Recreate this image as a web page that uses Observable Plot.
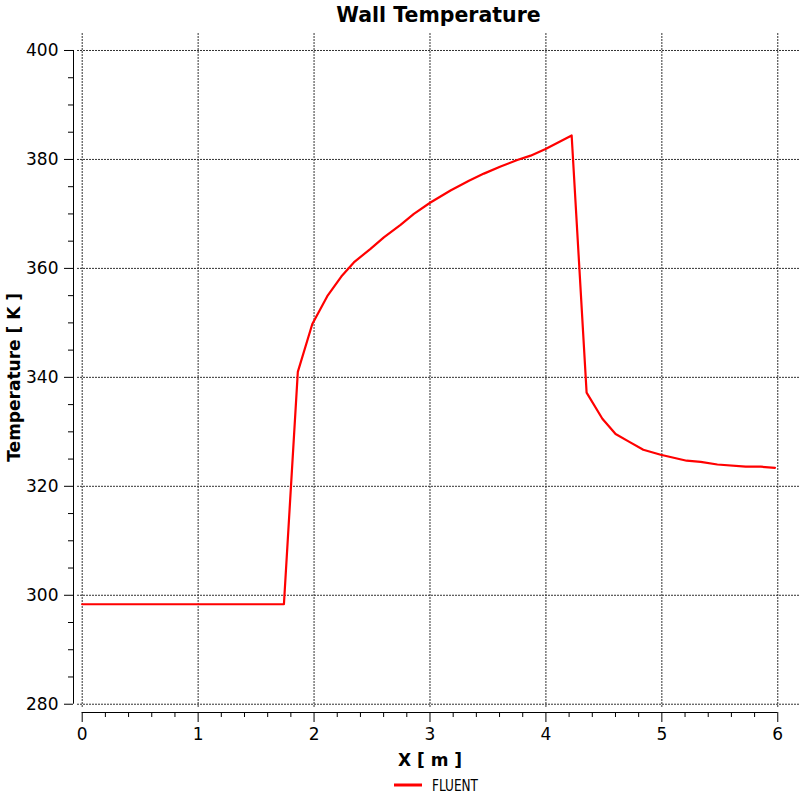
<!DOCTYPE html>
<html>
<head>
<meta charset="utf-8">
<script src="https://cdn.jsdelivr.net/npm/d3@7"></script>
<script src="https://cdn.jsdelivr.net/npm/@observablehq/plot@0.6"></script>
<style>
  html, body { margin: 0; padding: 0; background: #fff; }
  #wrap { position: relative; width: 800px; height: 800px; overflow: hidden; background: #fff; }
  #title { position: absolute; left: 77px; top: 0; width: 723px; height: 31px; line-height: 31px;
           text-align: center; font-family: "DejaVu Sans", sans-serif; font-weight: bold; font-size: 20.5px; color: #000; }
  #chart { position: absolute; left: 0; top: 33px; }
  #legend { position: absolute; left: 0; top: 773px; }
</style>
</head>
<body>
<div id="wrap">
  <div id="title"></div>
  <div id="chart"></div>
  <svg id="legend" width="800" height="27"></svg>
</div>
<script>
const titleText = "Wall Temperature";
const xLabel = "X [ m ]";
const yLabel = "Temperature [ K ]";
const seriesName = "FLUENT";

const xTicks = [0, 1, 2, 3, 4, 5, 6];
const yTicks = [280, 300, 320, 340, 360, 380, 400];

const xPos = [0, 1.740, 1.860, 1.985, 2.114, 2.235, 2.343, 2.487, 2.602, 2.746, 2.861, 3.004,
              3.177, 3.336, 3.465, 3.609, 3.753, 3.868, 3.997, 4.222, 4.351, 4.487, 4.601,
              4.716, 4.840, 4.990, 5.214, 5.335, 5.479, 5.723, 5.853, 5.976];
const temperature = [298.35, 298.35, 341.0, 349.8, 354.9, 358.5, 361.1, 363.6, 365.7, 368.0, 370.0, 372.1,
                     374.3, 376.1, 377.4, 378.7, 379.9, 380.7, 381.9, 384.4, 337.2, 332.4, 329.6,
                     328.2, 326.7, 325.8, 324.7, 324.5, 324.0, 323.6, 323.6, 323.4];

const data = xPos.map((x, i) => ({x, t: temperature[i]}));

const xMinor = d3.range(0, 6.0001, 0.2).filter(v => Math.abs(v - Math.round(v)) > 1e-6);
const yMinor = d3.range(280, 400.0001, 5).filter(v => v % 20 !== 0);

const xDomain = [-0.075, 6.196];
const yDomain = [278.48, 403.12];
const red = "#ff0000";
const gridStyle = {stroke: "#333", strokeWidth: 1, strokeDasharray: "2,1"};

document.getElementById("title").textContent = titleText;

const chart = Plot.plot({
  width: 800,
  height: 740,
  marginLeft: 73,
  marginRight: 0,
  marginTop: 0,
  marginBottom: 61,
  style: {fontFamily: "DejaVu Sans, sans-serif", fontSize: "17px", color: "#000", background: "#fff"},
  x: {domain: xDomain},
  y: {domain: yDomain},
  marks: [
    Plot.ruleX(xTicks, {...gridStyle, insetBottom: 4}),
    Plot.ruleY(yTicks, {...gridStyle, insetLeft: 4}),
    Plot.ruleY([yDomain[0]], {x1: xTicks[0], x2: xTicks[xTicks.length - 1], stroke: "#000"}),
    Plot.ruleX([xDomain[0]], {y1: yTicks[0], y2: yTicks[yTicks.length - 1], stroke: "#000"}),
    Plot.axisX({ticks: xTicks, tickSize: 10, tickPadding: 5, tickFormat: d => String(d), fontSize: 17, label: null}),
    Plot.axisX({ticks: xMinor, tickSize: 5, text: null, label: null}),
    Plot.axisY({ticks: yTicks, tickSize: 9, tickPadding: 6, tickFormat: d => String(d), fontSize: 17, label: null}),
    Plot.axisY({ticks: yMinor, tickSize: 5, text: null, label: null}),
    Plot.line(data, {x: "x", y: "t", stroke: red, strokeWidth: 2.2, strokeLinejoin: "round"}),
    Plot.text([xLabel], {x: (xTicks[0] + xTicks[xTicks.length - 1]) / 2, frameAnchor: "bottom", text: d => d,
      textAnchor: "middle", lineAnchor: "bottom", dy: 53, fontWeight: "bold", fontSize: 17, fill: "#000"}),
    Plot.text([yLabel], {y: (yTicks[0] + yTicks[yTicks.length - 1]) / 2, frameAnchor: "left", text: d => d,
      rotate: -90, textAnchor: "middle", lineAnchor: "bottom", dx: -54, fontWeight: "bold", fontSize: 17, fill: "#000"})
  ]
});
document.getElementById("chart").appendChild(chart);

// legend
const lg = d3.select("#legend");
lg.append("line").attr("x1", 394).attr("x2", 422).attr("y1", 12).attr("y2", 12)
  .attr("stroke", red).attr("stroke-width", 3);
lg.append("text").attr("x", 432).attr("y", 18)
  .attr("font-family", "DejaVu Sans, sans-serif").attr("font-size", 15)
  .attr("textLength", 46).attr("lengthAdjust", "spacingAndGlyphs")
  .attr("fill", "#000").text(seriesName);
</script>
</body>
</html>
